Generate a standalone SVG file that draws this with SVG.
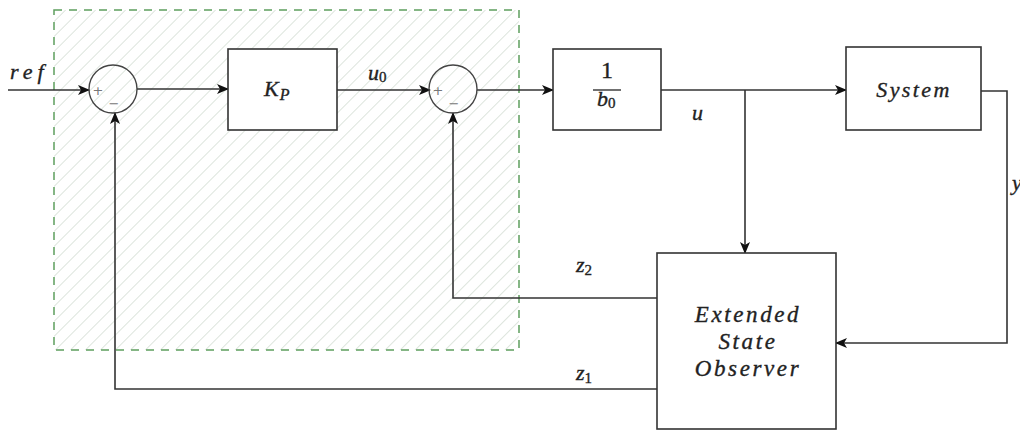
<svg xmlns="http://www.w3.org/2000/svg" width="1020" height="430" viewBox="0 0 1020 430">
<style>
.ln{fill:none;stroke:#333;stroke-width:1.6}
.bx{fill:#fff;stroke:#333;stroke-width:1.6}
.sum{fill:none;stroke:#444;stroke-width:1.4}
.t{font-family:"Liberation Serif","DejaVu Serif",serif;font-style:italic;font-size:22px;fill:#222;stroke:#222;stroke-width:0.35}
.n{font-family:"Liberation Serif","DejaVu Serif",serif;font-style:normal;fill:#222;stroke:#222;stroke-width:0.35}
.big{font-size:23px;letter-spacing:2.6px}
.sg{font-family:"DejaVu Sans",sans-serif;font-size:13px;fill:#777}
</style>
<defs>
<marker id="ah" viewBox="0 0 12 10" refX="11" refY="5" markerWidth="12" markerHeight="10" markerUnits="userSpaceOnUse" orient="auto">
<path d="M0,0 L12,5 L0,10 L3,5 Z" fill="#111"/>
</marker>
<pattern id="hatch" width="10.6" height="10.6" patternUnits="userSpaceOnUse" patternTransform="rotate(45)">
<line x1="0" y1="0" x2="0" y2="10.6" stroke="#c6d4c6" stroke-width="1.2"/>
</pattern>
</defs>
<g id="region">
<rect x="54" y="10" width="465" height="340" fill="url(#hatch)" stroke="#5e9e5e" stroke-width="1.5" stroke-dasharray="8 7"/>
</g>
<g id="connectors">
<path class="ln" d="M8,90 H89" marker-end="url(#ah)"/>
<path class="ln" d="M137,89 H228" marker-end="url(#ah)"/>
<path class="ln" d="M337,90 H430" marker-end="url(#ah)"/>
<path class="ln" d="M477,90 H553" marker-end="url(#ah)"/>
<path class="ln" d="M661,90 H846" marker-end="url(#ah)"/>
<path class="ln" d="M745,90 V253" marker-end="url(#ah)"/>
<path class="ln" d="M981,91 H1007 V343 H836" marker-end="url(#ah)"/>
<path class="ln" d="M657,298 H453 V113" marker-end="url(#ah)"/>
<path class="ln" d="M657,389 H115 V113" marker-end="url(#ah)"/>
</g>
<g id="sum1">
<circle class="sum" cx="113" cy="89" r="24"/>
<text class="sg" x="98" y="95" text-anchor="middle">+</text>
<text class="sg" x="114" y="108" text-anchor="middle">−</text>
</g>
<g id="sum2">
<circle class="sum" cx="453" cy="89" r="24"/>
<text class="sg" x="438" y="95" text-anchor="middle">+</text>
<text class="sg" x="454" y="108" text-anchor="middle">−</text>
</g>
<g id="kp">
<rect class="bx" x="228" y="49" width="109" height="81"/>
<text class="t" x="264" y="96" font-size="25">K<tspan font-size="16" dx="1" dy="4">P</tspan></text>
</g>
<g id="inv-b0">
<rect class="bx" x="553" y="49" width="108" height="81"/>
<text class="n" x="607" y="78" font-size="24" text-anchor="middle">1</text>
<line x1="593" y1="90" x2="621" y2="90" stroke="#333" stroke-width="1.4"/>
<text class="t" x="597" y="106" font-size="22">b<tspan class="n" font-size="15" dy="2">0</tspan></text>
</g>
<g id="system">
<rect class="bx" x="846" y="47" width="135" height="83"/>
<text class="t" x="914" y="97" font-size="24" letter-spacing="2.4" text-anchor="middle">System</text>
</g>
<g id="eso">
<rect class="bx" x="657" y="253" width="179" height="176"/>
<text class="t big" x="748" y="322" text-anchor="middle">Extended</text>
<text class="t big" x="748" y="349" text-anchor="middle">State</text>
<text class="t big" x="748" y="376" text-anchor="middle">Observer</text>
</g>
<g id="labels">
<text class="t" x="10" y="79" font-size="24" letter-spacing="5">ref</text>
<text class="t" x="368" y="80">u<tspan class="n" font-size="15" dy="2">0</tspan></text>
<text class="t" x="692" y="120">u</text>
<text class="t" x="576" y="272">z<tspan class="n" font-size="15" dy="3">2</tspan></text>
<text class="t" x="576" y="380">z<tspan class="n" font-size="15" dy="3">1</tspan></text>
<text class="t" x="1012" y="190">y</text>
</g>
</svg>
